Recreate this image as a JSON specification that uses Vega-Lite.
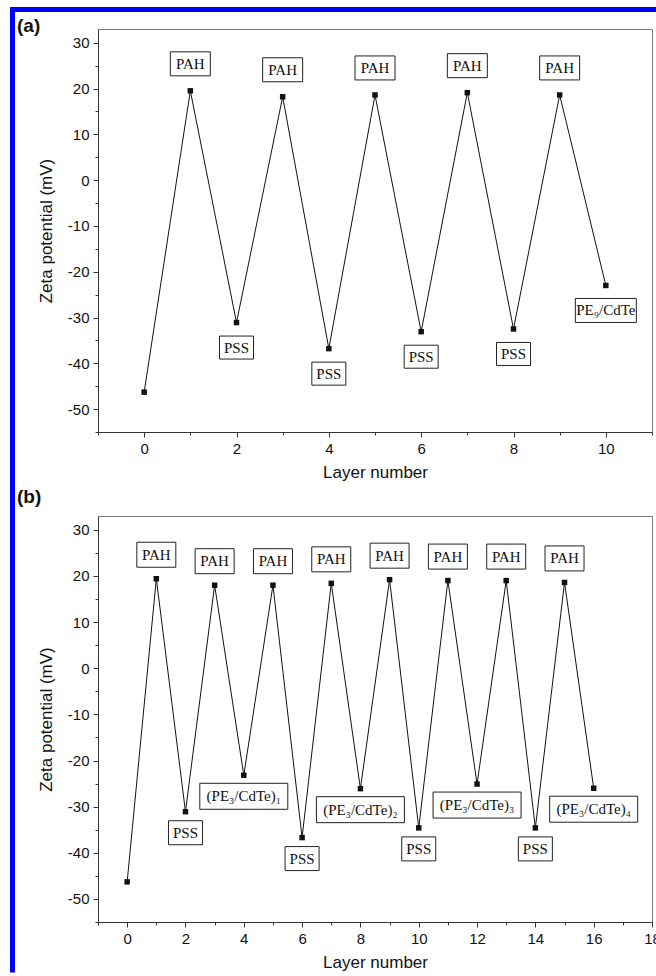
{
  "$schema": "https://vega.github.io/schema/vega-lite/v6.json",
  "padding": {"left": 9, "top": 4, "right": 0, "bottom": 0},
  "background": "white",
  "spacing": 84,
  "bounds": "flush",
  "resolve": {"scale": {"shape": "independent"}},
  "datasets": {
    "a": [
      {"layer": 0, "zeta": -46.3, "label": null},
      {"layer": 1, "zeta": 19.5, "label": "PAH"},
      {"layer": 2, "zeta": -31.1, "label": "PSS"},
      {"layer": 3, "zeta": 18.2, "label": "PAH"},
      {"layer": 4, "zeta": -36.8, "label": "PSS"},
      {"layer": 5, "zeta": 18.6, "label": "PAH"},
      {"layer": 6, "zeta": -33.1, "label": "PSS"},
      {"layer": 7, "zeta": 19.1, "label": "PAH"},
      {"layer": 8, "zeta": -32.5, "label": "PSS"},
      {"layer": 9, "zeta": 18.6, "label": "PAH"},
      {"layer": 10, "zeta": -23.0, "label": "PE₉/CdTe"}
    ],
    "b": [
      {"layer": 0, "zeta": -46.3, "label": null},
      {"layer": 1, "zeta": 19.4, "label": "PAH"},
      {"layer": 2, "zeta": -31.1, "label": "PSS"},
      {"layer": 3, "zeta": 18.0, "label": "PAH"},
      {"layer": 4, "zeta": -23.2, "label": "(PE₃/CdTe)₁"},
      {"layer": 5, "zeta": 18.0, "label": "PAH"},
      {"layer": 6, "zeta": -36.7, "label": "PSS"},
      {"layer": 7, "zeta": 18.4, "label": "PAH"},
      {"layer": 8, "zeta": -26.1, "label": "(PE₃/CdTe)₂"},
      {"layer": 9, "zeta": 19.2, "label": "PAH"},
      {"layer": 10, "zeta": -34.6, "label": "PSS"},
      {"layer": 11, "zeta": 19.0, "label": "PAH"},
      {"layer": 12, "zeta": -25.1, "label": "(PE₃/CdTe)₃"},
      {"layer": 13, "zeta": 19.0, "label": "PAH"},
      {"layer": 14, "zeta": -34.6, "label": "PSS"},
      {"layer": 15, "zeta": 18.6, "label": "PAH"},
      {"layer": 16, "zeta": -26.0, "label": "(PE₃/CdTe)₄"}
    ],
    "frame": [
      {"x": -2.852, "x2": 11.087, "y": 37.258, "y2": 37.258},
      {"x": -2.852, "x2": -2.852, "y": 37.8, "y2": -173.0}
    ]
  },
  "config": {
    "font": "Liberation Sans",
    "view": {"stroke": "#7a7a7a", "strokeWidth": 1},
    "axis": {
      "grid": false,
      "domainColor": "#333333",
      "tickColor": "#333333",
      "labelFont": "Liberation Sans",
      "labelFontSize": 15,
      "labelColor": "#111111",
      "labelPadding": 4,
      "titleFont": "Liberation Sans",
      "titleFontSize": 17,
      "titleFontWeight": "normal",
      "titleColor": "#111111"
    },
    "title": {"font": "Liberation Sans", "fontSize": 19, "fontWeight": "bold", "anchor": "start", "frame": "group", "color": "#111111"}
  },
  "vconcat": [
    {
      "width": 554,
      "height": 403,
      "title": {"text": "(a)", "dx": -81, "dy": 50, "offset": 0, "baseline": "bottom"},
      "resolve": {"axis": {"x": "independent", "y": "independent"}},
      "layer": [
        {
          "data": {"name": "a"},
          "mark": {"type": "line", "color": "#111111", "strokeWidth": 1},
          "encoding": {
            "x": {"field": "layer", "type": "quantitative", "scale": {"domain": [-1, 11], "nice": false, "zero": false},
              "axis": {"orient": "bottom", "values": [0, 2, 4, 6, 8, 10], "tickSize": 5, "title": "Layer number", "titlePadding": 8, "labelFlush": false}},
            "y": {"field": "zeta", "type": "quantitative", "scale": {"domain": [-55, 33], "nice": false, "zero": false},
              "axis": {"orient": "left", "values": [-50, -40, -30, -20, -10, 0, 10, 20, 30], "tickSize": 5, "title": "Zeta potential (mV)", "titlePadding": 12, "labelFlush": false, "labelExpr": "replace(datum.label, '−', '-')"}}
          }
        },
        {
          "data": {"name": "a"},
          "mark": {"type": "point", "shape": "square", "filled": true, "color": "#111111", "size": 30, "opacity": 1},
          "encoding": {
            "x": {"field": "layer", "type": "quantitative",
              "axis": {"orient": "bottom", "values": [-1, 1, 3, 5, 7, 9, 11], "tickSize": 3, "labels": false, "domain": false, "title": null}},
            "y": {"field": "zeta", "type": "quantitative",
              "axis": {"orient": "left", "values": [-55, -45, -35, -25, -15, -5, 5, 15, 25], "tickSize": 3, "labels": false, "domain": false, "title": null}}
          }
        },
        {
          "data": {"name": "a"},
          "transform": [{"filter": "datum.label === 'PAH'"}],
          "layer": [
            {
              "mark": {"type": "point", "filled": true, "fill": "white", "stroke": "#222222", "strokeWidth": 1, "size": 400, "opacity": 1, "yOffset": -27,
                "shape": "M-2,-1.2H2V1.2H-2Z"},
              "encoding": {"x": {"field": "layer", "type": "quantitative", "axis": null}, "y": {"field": "zeta", "type": "quantitative", "axis": null}}
            },
            {
              "mark": {"type": "text", "font": "Liberation Serif", "fontSize": 15, "color": "#111111", "baseline": "middle", "align": "center", "yOffset": -27},
              "encoding": {"x": {"field": "layer", "type": "quantitative", "axis": null}, "y": {"field": "zeta", "type": "quantitative", "axis": null}, "text": {"field": "label"}}
            }
          ]
        },
        {
          "data": {"name": "a"},
          "transform": [{"filter": "datum.label != null && datum.label !== 'PAH'"}],
          "layer": [
            {
              "mark": {"type": "point", "filled": true, "fill": "white", "stroke": "#222222", "strokeWidth": 1, "size": 400, "opacity": 1, "yOffset": 25},
              "encoding": {"x": {"field": "layer", "type": "quantitative", "axis": null}, "y": {"field": "zeta", "type": "quantitative", "axis": null},
                "shape": {"field": "label", "type": "nominal", "legend": null,
                  "scale": {"domain": ["PSS", "PE₉/CdTe"], "range": ["M-1.7,-1.15H1.7V1.15H-1.7Z", "M-3.05,-1.2H3.05V1.2H-3.05Z"]}}}
            },
            {
              "mark": {"type": "text", "font": "Liberation Serif", "fontSize": 15, "color": "#111111", "baseline": "middle", "align": "center", "yOffset": 25},
              "encoding": {"x": {"field": "layer", "type": "quantitative", "axis": null}, "y": {"field": "zeta", "type": "quantitative", "axis": null}, "text": {"field": "label"}}
            }
          ]
        },
        {
          "data": {"name": "frame"},
          "mark": {"type": "rule", "color": "#0000ff", "strokeWidth": 5, "clip": false},
          "encoding": {
            "x": {"field": "x", "type": "quantitative", "axis": null},
            "x2": {"field": "x2"},
            "y": {"field": "y", "type": "quantitative", "axis": null},
            "y2": {"field": "y2"}
          }
        }
      ]
    },
    {
      "width": 554,
      "height": 406,
      "title": {"text": "(b)", "dx": -81, "dy": 10, "offset": 0, "baseline": "bottom"},
      "data": {"name": "b"},
      "resolve": {"axis": {"x": "independent", "y": "independent"}},
      "layer": [
        {
          "mark": {"type": "line", "color": "#111111", "strokeWidth": 1},
          "encoding": {
            "x": {"field": "layer", "type": "quantitative", "scale": {"domain": [-1, 18], "nice": false, "zero": false},
              "axis": {"orient": "bottom", "values": [0, 2, 4, 6, 8, 10, 12, 14, 16, 18], "tickSize": 5, "title": "Layer number", "titlePadding": 8, "labelFlush": false}},
            "y": {"field": "zeta", "type": "quantitative", "scale": {"domain": [-55, 33], "nice": false, "zero": false},
              "axis": {"orient": "left", "values": [-50, -40, -30, -20, -10, 0, 10, 20, 30], "tickSize": 5, "title": "Zeta potential (mV)", "titlePadding": 12, "labelFlush": false, "labelExpr": "replace(datum.label, '−', '-')"}}
          }
        },
        {
          "mark": {"type": "point", "shape": "square", "filled": true, "color": "#111111", "size": 30, "opacity": 1},
          "encoding": {
            "x": {"field": "layer", "type": "quantitative",
              "axis": {"orient": "bottom", "values": [-1, 1, 3, 5, 7, 9, 11, 13, 15, 17], "tickSize": 3, "labels": false, "domain": false, "title": null}},
            "y": {"field": "zeta", "type": "quantitative",
              "axis": {"orient": "left", "values": [-55, -45, -35, -25, -15, -5, 5, 15, 25], "tickSize": 3, "labels": false, "domain": false, "title": null}}
          }
        },
        {
          "transform": [{"filter": "datum.label === 'PAH'"}],
          "layer": [
            {
              "mark": {"type": "point", "filled": true, "fill": "white", "stroke": "#222222", "strokeWidth": 1, "size": 400, "opacity": 1, "yOffset": -24,
                "shape": "M-1.95,-1.25H1.95V1.25H-1.95Z"},
              "encoding": {"x": {"field": "layer", "type": "quantitative", "axis": null}, "y": {"field": "zeta", "type": "quantitative", "axis": null}}
            },
            {
              "mark": {"type": "text", "font": "Liberation Serif", "fontSize": 15, "color": "#111111", "baseline": "middle", "align": "center", "yOffset": -24},
              "encoding": {"x": {"field": "layer", "type": "quantitative", "axis": null}, "y": {"field": "zeta", "type": "quantitative", "axis": null}, "text": {"field": "label"}}
            }
          ]
        },
        {
          "transform": [{"filter": "datum.label != null && datum.label !== 'PAH'"}],
          "layer": [
            {
              "mark": {"type": "point", "filled": true, "fill": "white", "stroke": "#222222", "strokeWidth": 1, "size": 400, "opacity": 1, "yOffset": 21},
              "encoding": {"x": {"field": "layer", "type": "quantitative", "axis": null}, "y": {"field": "zeta", "type": "quantitative", "axis": null},
                "shape": {"field": "label", "type": "nominal", "legend": null,
                  "scale": {"domain": ["PSS", "(PE₃/CdTe)₁", "(PE₃/CdTe)₂", "(PE₃/CdTe)₃", "(PE₃/CdTe)₄"],
                    "range": ["M-1.7,-1.2H1.7V1.2H-1.7Z", "M-4.4,-1.3H4.4V1.3H-4.4Z", "M-4.4,-1.3H4.4V1.3H-4.4Z", "M-4.4,-1.3H4.4V1.3H-4.4Z", "M-4.4,-1.3H4.4V1.3H-4.4Z"]}}}
            },
            {
              "mark": {"type": "text", "font": "Liberation Serif", "fontSize": 15, "color": "#111111", "baseline": "middle", "align": "center", "yOffset": 21},
              "encoding": {"x": {"field": "layer", "type": "quantitative", "axis": null}, "y": {"field": "zeta", "type": "quantitative", "axis": null}, "text": {"field": "label"}}
            }
          ]
        }
      ]
    }
  ]
}
